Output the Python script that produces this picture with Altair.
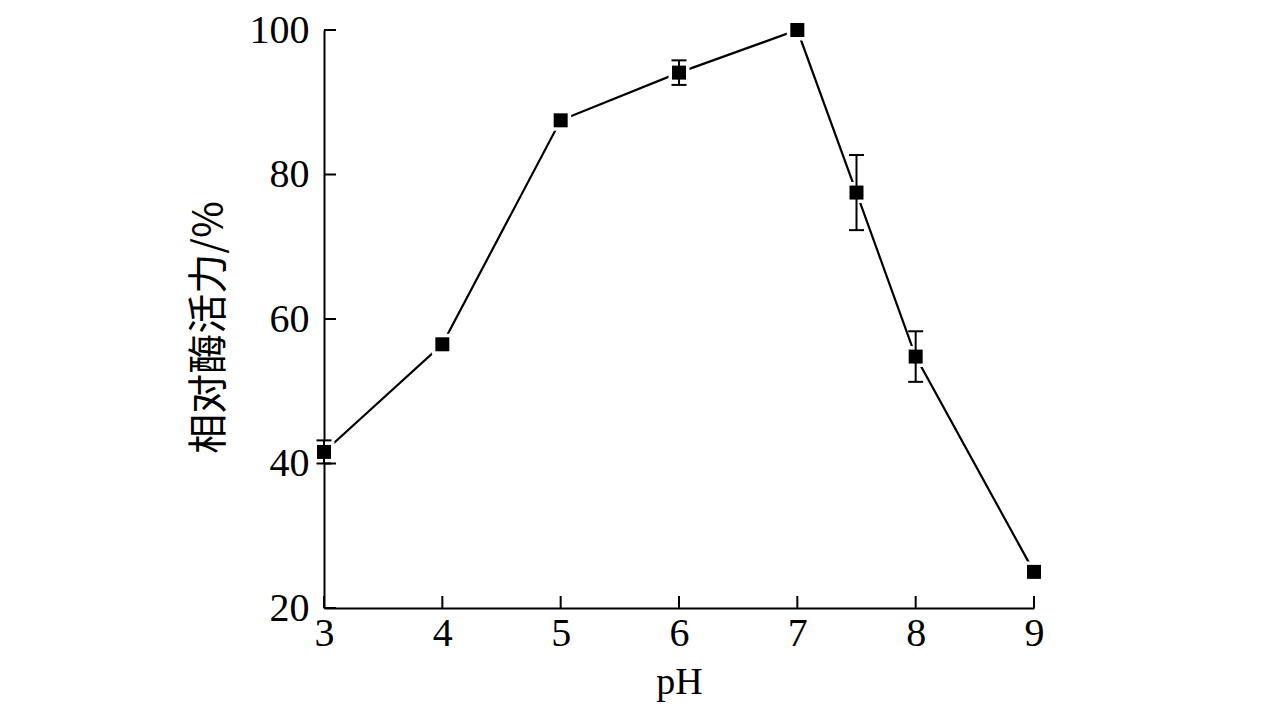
import altair as alt
import pandas as pd

ph = [3, 4, 5, 6, 7, 7.5, 8, 9]
activity = [41.6, 56.5, 87.5, 94.1, 100.0, 77.5, 54.8, 25.0]
err = [1.6, 0.0, 0.0, 1.7, 0.0, 5.2, 3.5, 0.0]

x_ticks = [3, 4, 5, 6, 7, 8, 9]
y_ticks = [20, 40, 60, 80, 100]

df = pd.DataFrame({"ph": ph, "act": activity, "err": err})
df["lo"] = df["act"] - df["err"]
df["hi"] = df["act"] + df["err"]
edf = df[df["err"] > 0]

W, H = 710, 578
FONT = "Liberation Serif"

xs = alt.Scale(domain=[3, 9], nice=False, zero=False)
ys = alt.Scale(domain=[20, 100], nice=False, zero=False)

xax = alt.Axis(values=x_ticks, title="pH", labelPadding=5, titlePadding=10)
yax = alt.Axis(values=y_ticks, title="相对酶活力/%", labelPadding=15, titlePadding=20,
               titleFont="Noto Sans CJK SC", titleFontSize=40, titleY=297)

base = alt.Chart(df)

line = base.mark_line(color="black", strokeWidth=2.2).encode(
    x=alt.X("ph:Q", scale=xs, axis=xax),
    y=alt.Y("act:Q", scale=ys, axis=yax),
)

points = base.mark_point(shape="square", filled=True, size=196, color="black",
                         stroke="white", strokeWidth=7, opacity=1, strokeOpacity=1).encode(
    x=alt.X("ph:Q", scale=xs, axis=xax),
    y=alt.Y("act:Q", scale=ys, axis=yax),
)
points_core = base.mark_point(shape="square", filled=True, size=196, color="black",
                              opacity=1).encode(
    x=alt.X("ph:Q", scale=xs, axis=xax),
    y=alt.Y("act:Q", scale=ys, axis=yax),
)

ebase = alt.Chart(edf)
erule = ebase.mark_rule(color="black", strokeWidth=2, opacity=1).encode(
    x=alt.X("ph:Q", scale=xs, axis=xax),
    y=alt.Y("lo:Q", scale=ys, axis=yax),
    y2="hi:Q",
)
cap_lo = ebase.mark_tick(color="black", size=15, thickness=2, orient="horizontal",
                         opacity=1).encode(
    x=alt.X("ph:Q", scale=xs, axis=xax),
    y=alt.Y("lo:Q", scale=ys, axis=yax),
)
cap_hi = ebase.mark_tick(color="black", size=15, thickness=2, orient="horizontal",
                         opacity=1).encode(
    x=alt.X("ph:Q", scale=xs, axis=xax),
    y=alt.Y("hi:Q", scale=ys, axis=yax),
)

ytick_df = pd.DataFrame({"v": y_ticks})
xtick_df = pd.DataFrame({"v": x_ticks})
yticks = alt.Chart(ytick_df).mark_tick(color="black", size=12, thickness=2,
                                       orient="horizontal", opacity=1).encode(
    y=alt.Y("v:Q", scale=ys, axis=yax),
    x=alt.value(6),
)
xticks = alt.Chart(xtick_df).mark_tick(color="black", size=12, thickness=2,
                                       orient="vertical", opacity=1).encode(
    x=alt.X("v:Q", scale=xs, axis=xax),
    y=alt.value(H - 6),
)

chart = alt.layer(line, points, points_core, erule, cap_lo, cap_hi, yticks, xticks).properties(
    width=W, height=H,
    background="white",
    autosize=alt.AutoSizeParams(type="none"),
    padding={"left": 316, "top": 22, "right": 120, "bottom": 110},
).configure_view(stroke=None).configure_axis(
    ticks=False, grid=False, domainColor="black", domainWidth=2, domainOpacity=1,
    labelFont=FONT, labelFontSize=40, labelColor="black", labelFlush=False,
    titleFont=FONT, titleFontSize=38, titleFontWeight="normal", titleColor="black",
)

chart.save("out.html", embed_options={"renderer": "svg", "actions": False})
